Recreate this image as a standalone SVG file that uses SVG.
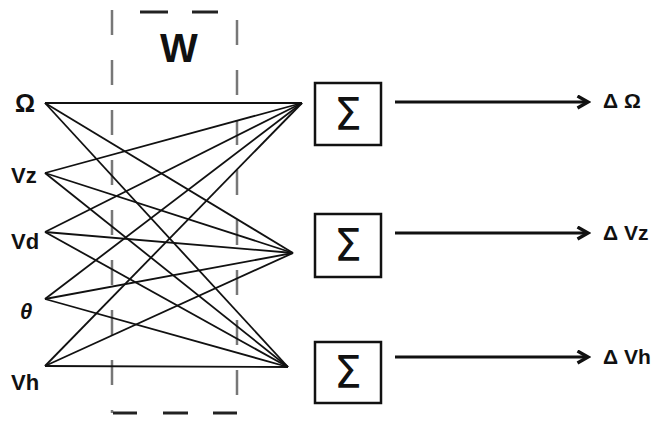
<svg xmlns="http://www.w3.org/2000/svg" width="653" height="421" viewBox="0 0 653 421">
<defs>
<style>
.lbl{font-family:"Liberation Sans",Arial,sans-serif;font-weight:bold;fill:#111}
.w{stroke:#111;stroke-width:1.8;fill:none}
.dv{stroke:#777;stroke-width:2.5;stroke-dasharray:25 25;fill:none}
.dh{stroke:#222;stroke-width:3;fill:none}
.box{fill:#fff;stroke:#111;stroke-width:2.5}
.sig{font-family:"DejaVu Sans","Liberation Sans",sans-serif;font-size:44px;fill:#111;text-anchor:middle}
.arr{stroke:#111;stroke-width:3;fill:none}
</style>
<marker id="ah" viewBox="0 0 10 10" refX="8" refY="5" markerWidth="5" markerHeight="5" orient="auto" markerUnits="strokeWidth">
<path d="M1,1 L8,5 L1,9" fill="none" stroke="#111" stroke-width="2.2"/>
</marker>
</defs>
<rect width="653" height="421" fill="#fff"/>
<g id="weights">
<line class="dv" x1="112" y1="10" x2="112" y2="413"/>
<line class="dv" x1="237" y1="20" x2="237" y2="413"/>
<line class="dh" x1="140" y1="12" x2="168" y2="12"/>
<line class="dh" x1="192" y1="12" x2="218" y2="12"/>
<line class="dh" x1="113" y1="413" x2="137" y2="413"/>
<line class="dh" x1="163" y1="413" x2="188" y2="413"/>
<line class="dh" x1="213" y1="413" x2="237" y2="413"/>
<text class="lbl" x="179" y="62" font-size="40" text-anchor="middle">W</text>
</g>
<g id="connectors">
<line class="w" x1="45" y1="103" x2="302" y2="103"/>
<line class="w" x1="45" y1="103" x2="293" y2="253"/>
<line class="w" x1="45" y1="103" x2="288" y2="367"/>
<line class="w" x1="45" y1="173" x2="302" y2="103"/>
<line class="w" x1="45" y1="173" x2="293" y2="253"/>
<line class="w" x1="45" y1="173" x2="288" y2="367"/>
<line class="w" x1="45" y1="232" x2="302" y2="103"/>
<line class="w" x1="45" y1="232" x2="293" y2="253"/>
<line class="w" x1="45" y1="232" x2="288" y2="367"/>
<line class="w" x1="45" y1="299" x2="302" y2="103"/>
<line class="w" x1="45" y1="299" x2="293" y2="253"/>
<line class="w" x1="45" y1="299" x2="288" y2="367"/>
<line class="w" x1="45" y1="366" x2="302" y2="103"/>
<line class="w" x1="45" y1="366" x2="293" y2="253"/>
<line class="w" x1="45" y1="366" x2="288" y2="367"/>
<line class="arr" x1="395" y1="102" x2="588" y2="102" marker-end="url(#ah)"/>
<line class="arr" x1="395" y1="233" x2="588" y2="233" marker-end="url(#ah)"/>
<line class="arr" x1="395" y1="357" x2="588" y2="357" marker-end="url(#ah)"/>
</g>
<g id="inputs">
<text class="lbl" x="15" y="112" font-size="25">Ω</text>
<text class="lbl" x="11" y="183" font-size="22">Vz</text>
<text class="lbl" x="11" y="249" font-size="22">Vd</text>
<text class="lbl" x="20" y="319" font-size="22" font-style="italic">θ</text>
<text class="lbl" x="11" y="390" font-size="22">Vh</text>
</g>
<g id="sum1"><rect class="box" x="315" y="83" width="66" height="62"/><text class="sig" x="348" y="130">Σ</text></g>
<g id="sum2"><rect class="box" x="315" y="214" width="66" height="63"/><text class="sig" x="348" y="261">Σ</text></g>
<g id="sum3"><rect class="box" x="315" y="342" width="66" height="61"/><text class="sig" x="348" y="388">Σ</text></g>
<g id="outputs">
<text class="lbl" x="603" y="108" font-size="21">Δ Ω</text>
<text class="lbl" x="603" y="240" font-size="21">Δ Vz</text>
<text class="lbl" x="603" y="364" font-size="21">Δ Vh</text>
</g>
</svg>
